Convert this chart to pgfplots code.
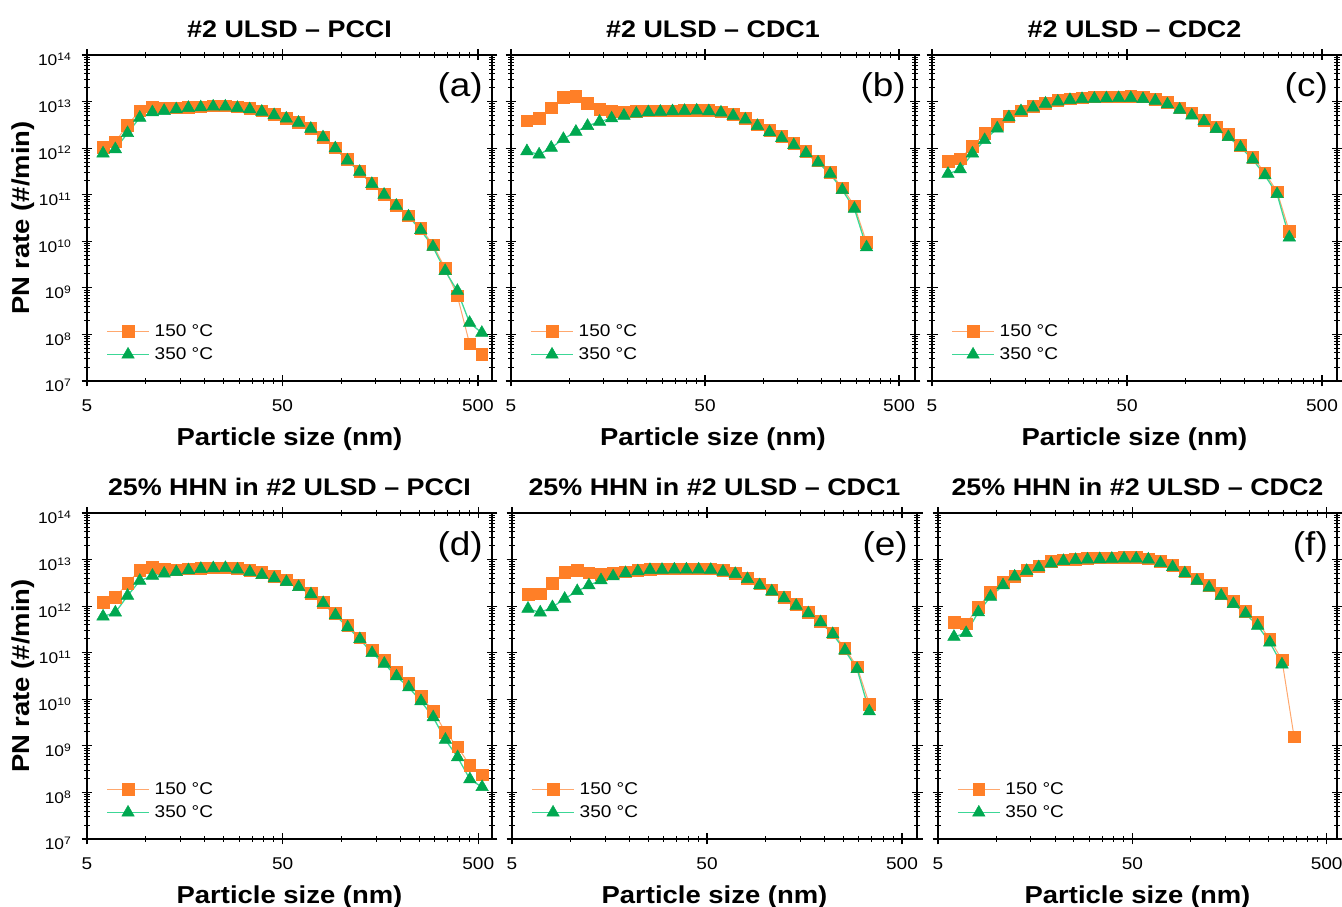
\documentclass[border=0pt]{standalone}
\usepackage{fontspec}
\setmainfont{Liberation Sans}[FakeStretch=1.12]
\usepackage{pgfplots}
\usepackage{pgfplotstable}
\pgfplotsset{compat=1.18}

\definecolor{om}{RGB}{255,127,39}
\definecolor{ol}{RGB}{255,168,110}
\definecolor{gm}{RGB}{0,168,80}
\definecolor{gl}{RGB}{60,215,150}

% #2 ULSD - PCCI
\pgfplotstableread{
x     o        g
6.04  1.04e12  7.7e11
6.98  1.37e12  9.5e11
8.06  3.13e12  2.1e12
9.31  6.4e12   4.5e12
10.8  7.8e12   5.9e12
12.4  7.3e12   6.3e12
14.3  7.3e12   6.8e12
16.5  7.5e12   7.3e12
19.1  7.8e12   7.5e12
22.1  8.1e12   7.8e12
25.5  8.1e12   7.8e12
29.4  7.8e12   7.3e12
34.0  7.1e12   6.8e12
39.2  6.3e12   6.05e12
45.3  5.3e12   5.1e12
52.3  4.4e12   4.3e12
60.4  3.6e12   3.5e12
69.8  2.65e12  2.6e12
80.6  1.73e12  1.7e12
93.1  1.02e12  9.9e11
107.5 5.7e11   5.4e11
124.1 3.2e11   3.1e11
143.3 1.75e11  1.7e11
165.5 1.03e11  1.0e11
191.1 6.0e10   5.8e10
220.7 3.5e10   3.4e10
254.8 1.9e10   1.74e10
294.3 8.5e9    7.6e9
339.8 2.6e9    2.3e9
392.4 6.7e8    8.6e8
453.2 6.3e7    1.77e8
523.3 3.7e7    1.08e8
}\tA

% #2 ULSD - CDC1
\pgfplotstableread{
x     o        g
6.04  3.9e12   8.6e11
6.98  4.4e12   7.3e11
8.06  7.4e12   1.02e12
9.31  1.23e13  1.57e12
10.8  1.31e13  2.25e12
12.4  9.1e12   3.0e12
14.3  6.9e12   3.7e12
16.5  6.2e12   4.35e12
19.1  5.95e12  4.97e12
22.1  6.2e12   5.5e12
25.5  6.4e12   5.9e12
29.4  6.4e12   6.05e12
34.0  6.4e12   6.2e12
39.2  6.5e12   6.3e12
45.3  6.6e12   6.4e12
52.3  6.5e12   6.2e12
60.4  6.05e12  5.8e12
69.8  5.4e12   4.97e12
80.6  4.4e12   4.1e12
93.1  3.2e12   3.0e12
107.5 2.4e12   2.2e12
124.1 1.79e12  1.64e12
143.3 1.28e12  1.16e12
165.5 8.6e11   7.8e11
191.1 5.4e11   4.9e11
220.7 3.0e11   2.8e11
254.8 1.41e11  1.26e11
294.3 5.8e10   5.0e10
339.8 9.4e9    7.4e9
}\tB

% #2 ULSD - CDC2
\pgfplotstableread{
x     o        g
6.04  5.2e11   2.8e11
6.98  5.9e11   3.5e11
8.06  1.11e12  7.7e11
9.31  2.07e12  1.49e12
10.8  3.3e12   2.65e12
12.4  4.8e12   4.6e12
14.3  6.4e12   6.2e12
16.5  7.9e12   7.4e12
19.1  9.1e12   9.0e12
22.1  1.06e13  1.0e13
25.5  1.15e13  1.08e13
29.4  1.21e13  1.13e13
34.0  1.26e13  1.15e13
39.2  1.26e13  1.17e13
45.3  1.27e13  1.19e13
52.3  1.3e13   1.19e13
60.4  1.26e13  1.13e13
69.8  1.11e13  1.04e13
80.6  9.6e12   8.7e12
93.1  7.4e12   6.7e12
107.5 5.7e12   5.0e12
124.1 4.0e12   3.75e12
143.3 2.9e12   2.57e12
165.5 1.97e12  1.73e12
191.1 1.15e12  1.04e12
220.7 6.4e11   5.7e11
254.8 2.96e11  2.6e11
294.3 1.16e11  1.03e11
339.8 1.65e10  1.21e10
}\tC

% 25% HHN - PCCI
\pgfplotstableread{
x     o        g
6.04  1.22e12  6.0e11
6.98  1.54e12  7.3e11
8.06  3.1e12   1.67e12
9.31  5.9e12   3.5e12
10.8  6.9e12   4.5e12
12.4  6.3e12   5.0e12
14.3  6.1e12   5.4e12
16.5  6.3e12   5.9e12
19.1  6.5e12   6.3e12
22.1  6.7e12   6.5e12
25.5  6.7e12   6.6e12
29.4  6.5e12   6.1e12
34.0  5.9e12   5.4e12
39.2  5.4e12   4.65e12
45.3  4.4e12   3.95e12
52.3  3.7e12   3.3e12
60.4  2.9e12   2.57e12
69.8  1.88e12  1.79e12
80.6  1.2e12   1.16e12
93.1  7.1e11   6.4e11
107.5 3.9e11   3.5e11
124.1 2.1e11   1.96e11
143.3 1.16e11  9.8e10
165.5 6.8e10   5.8e10
191.1 3.8e10   3.1e10
220.7 2.2e10   1.8e10
254.8 1.15e10  9.1e9
294.3 5.6e9    4.1e9
339.8 1.97e9   1.35e9
392.4 9.5e8    5.7e8
453.2 3.8e8    1.92e8
523.3 2.4e8    1.3e8
}\tD

% 25% HHN - CDC1
\pgfplotstableread{
x     o        g
6.04  1.79e12  8.8e11
6.98  1.85e12  7.3e11
8.06  3.1e12   9.5e11
9.31  5.4e12   1.44e12
10.8  5.96e12  2.1e12
12.4  5.2e12   2.8e12
14.3  4.8e12   3.6e12
16.5  5.2e12   4.35e12
19.1  5.5e12   5.1e12
22.1  5.9e12   5.6e12
25.5  6.2e12   5.96e12
29.4  6.3e12   6.0e12
34.0  6.3e12   6.1e12
39.2  6.3e12   6.1e12
45.3  6.3e12   6.1e12
52.3  6.3e12   6.0e12
60.4  5.9e12   5.5e12
69.8  5.05e12  4.9e12
80.6  4.0e12   3.8e12
93.1  3.0e12   2.8e12
107.5 2.25e12  2.07e12
124.1 1.57e12  1.47e12
143.3 1.11e12  1.02e12
165.5 7.4e11   7.0e11
191.1 4.8e11   4.5e11
220.7 2.7e11   2.5e11
254.8 1.24e11  1.12e11
294.3 5.0e10   4.45e10
339.8 7.9e9    5.5e9
}\tE

% 25% HHN - CDC2
\pgfplotstableread{
x     o        g
6.04  4.5e11   2.2e11
6.98  4.2e11   2.64e11
8.06  9.5e11   7.4e11
9.31  2.0e12   1.59e12
10.8  3.3e12   2.8e12
12.4  4.4e12   4.3e12
14.3  5.9e12   5.7e12
16.5  7.1e12   6.8e12
19.1  9.1e12   8.2e12
22.1  1.0e13   9.3e12
25.5  1.03e13  9.8e12
29.4  1.07e13  1.0e13
34.0  1.09e13  1.02e13
39.2  1.1e13   1.04e13
45.3  1.11e13  1.05e13
52.3  1.11e13  1.05e13
60.4  1.05e13  1.0e13
69.8  9.3e12   8.4e12
80.6  7.6e12   6.9e12
93.1  5.5e12   5.05e12
107.5 3.9e12   3.5e12
124.1 2.8e12   2.5e12
143.3 1.91e12  1.67e12
165.5 1.27e12  1.11e12
191.1 7.8e11   6.9e11
220.7 4.5e11   3.8e11
254.8 1.96e11  1.66e11
294.3 7.0e10   5.6e10
339.8 1.56e9   nan
}\tF

\tikzset{lab/.style={anchor=east, inner sep=0pt, font=\fontsize{33}{36}\selectfont}}

\pgfplotsset{
  pn/.style={
    scale only axis, height=326pt,
    xmin=5, ymin=1e7, ymax=1e14,
    xtick={5,50,500}, xticklabels={5,50,500},
    minor xtick={10,15,20,25,30,35,40,45,100,150,200,250,300,350,400,450},
    ytick={1e7,1e8,1e9,1e10,1e11,1e12,1e13,1e14},
    yticklabels={10\textsuperscript{7},10\textsuperscript{8},10\textsuperscript{9},10\textsuperscript{10},10\textsuperscript{11},10\textsuperscript{12},10\textsuperscript{13},10\textsuperscript{14}},
    minor ytick={2e7,3e7,4e7,5e7,6e7,7e7,8e7,9e7,
      2e8,3e8,4e8,5e8,6e8,7e8,8e8,9e8,
      2e9,3e9,4e9,5e9,6e9,7e9,8e9,9e9,
      2e10,3e10,4e10,5e10,6e10,7e10,8e10,9e10,
      2e11,3e11,4e11,5e11,6e11,7e11,8e11,9e11,
      2e12,3e12,4e12,5e12,6e12,7e12,8e12,9e12,
      2e13,3e13,4e13,5e13,6e13,7e13,8e13,9e13},
    tick align=center,
    major tick length=11pt, minor tick length=6pt,
    axis line style={line width=1.4pt},
    major tick style={line width=1.2pt, black},
    minor tick style={line width=0.9pt, black},
    xticklabel style={anchor=base, yshift=-25pt, inner sep=0pt, font=\fontsize{17}{19}\selectfont},
    yticklabel style={anchor=base east, xshift=-10pt, yshift=-11pt, inner sep=0pt, font=\fontsize{15.5}{17}\selectfont},
    every axis title shift=0pt,
    title style={at={(axis description cs:0.5,1)}, anchor=base, yshift=17pt, font=\bfseries\fontsize{24}{28}\selectfont},
    xlabel={Particle size (nm)},
    xlabel style={at={(axis description cs:0.5,0)}, anchor=base, yshift=-65pt, font=\bfseries\fontsize{24.5}{28}\selectfont},
    ylabel style={at={(axis description cs:-0.158,0.5)}, anchor=center, font=\bfseries\fontsize{24.5}{28}\selectfont},
    legend style={draw=none, fill=none, at={(axis description cs:0.04,0.186)}, anchor=north west,
      font=\fontsize{17}{19}\selectfont, row sep=6pt, column sep=3pt},
    legend cell align=left,
    legend image code/.code={\draw[mark repeat=2,mark phase=2] plot coordinates {(0pt,0pt) (21pt,0pt) (42pt,0pt)};},
  },
  org/.style={color=ol, line width=1pt, mark=square*, mark size=5.8pt, mark options={fill=om, draw=om, line width=0.5pt}},
  grn/.style={color=gl, line width=1.3pt, mark=triangle*, mark size=7.2pt, mark options={fill=gm, draw=gm, line width=0.5pt}},
}

\begin{document}
\begin{tikzpicture}
\path[use as bounding box] (0pt,0pt) rectangle (1342pt,907pt);

\begin{loglogaxis}[pn, at={(87pt,526pt)}, anchor=south west, width=405pt, xmax=590,
  title={\#2 ULSD – PCCI}, ylabel={PN rate (\#/min)}]
\addplot[org] table[x=x,y=o]{\tA};
\addplot[grn] table[x=x,y=g]{\tA};
\legend{150 °C,350 °C}
\node[lab] at ([xshift=-9pt,yshift=-33pt]rel axis cs:1,1) {(a)};
\end{loglogaxis}

\begin{loglogaxis}[pn, at={(511pt,526pt)}, anchor=south west, width=404pt, xmax=604,
  title={\#2 ULSD – CDC1}, yticklabels={}]
\addplot[org] table[x=x,y=o]{\tB};
\addplot[grn] table[x=x,y=g]{\tB};
\legend{150 °C,350 °C}
\node[lab] at ([xshift=-9pt,yshift=-33pt]rel axis cs:1,1) {(b)};
\end{loglogaxis}

\begin{loglogaxis}[pn, at={(932pt,526pt)}, anchor=south west, width=405pt, xmax=597,
  title={\#2 ULSD – CDC2}, yticklabels={}]
\addplot[org] table[x=x,y=o]{\tC};
\addplot[grn] table[x=x,y=g]{\tC};
\legend{150 °C,350 °C}
\node[lab] at ([xshift=-9pt,yshift=-33pt]rel axis cs:1,1) {(c)};
\end{loglogaxis}

\begin{loglogaxis}[pn, at={(87pt,68pt)}, anchor=south west, width=405pt, xmax=588,
  title={25\% HHN in \#2 ULSD – PCCI}, ylabel={PN rate (\#/min)}]
\addplot[org] table[x=x,y=o]{\tD};
\addplot[grn] table[x=x,y=g]{\tD};
\legend{150 °C,350 °C}
\node[lab] at ([xshift=-9pt,yshift=-34pt]rel axis cs:1,1) {(d)};
\end{loglogaxis}

\begin{loglogaxis}[pn, at={(512pt,68pt)}, anchor=south west, width=405pt, xmax=597,
  title={25\% HHN in \#2 ULSD – CDC1}, yticklabels={}]
\addplot[org] table[x=x,y=o]{\tE};
\addplot[grn] table[x=x,y=g]{\tE};
\legend{150 °C,350 °C}
\node[lab] at ([xshift=-9pt,yshift=-34pt]rel axis cs:1,1) {(e)};
\end{loglogaxis}

\begin{loglogaxis}[pn, at={(938pt,68pt)}, anchor=south west, width=399pt, xmax=565,
  title={25\% HHN in \#2 ULSD – CDC2}, yticklabels={}]
\addplot[org] table[x=x,y=o]{\tF};
\addplot[grn] table[x=x,y=g]{\tF};
\legend{150 °C,350 °C}
\node[lab] at ([xshift=-9pt,yshift=-34pt]rel axis cs:1,1) {(f)};
\end{loglogaxis}
\end{tikzpicture}
\end{document}
